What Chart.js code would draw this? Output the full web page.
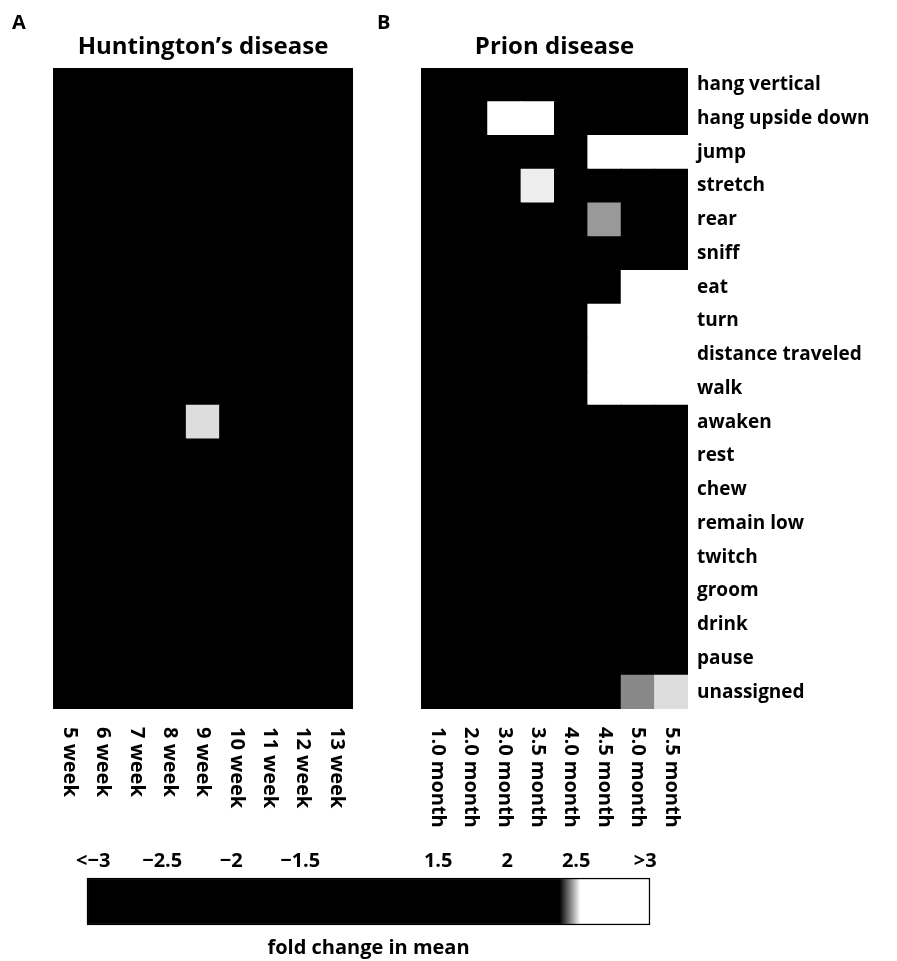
<!DOCTYPE html>
<html>
<head>
<meta charset="utf-8">
<script src="https://cdn.jsdelivr.net/npm/chart.js@4.4.1/dist/chart.umd.min.js"></script>
<style>
    html, body { margin: 0; padding: 0; background: #fff; }
    body { width: 897px; height: 961px; position: relative; overflow: hidden; }
    canvas { position: absolute; }
</style>
</head>
<body>
<canvas id="hdChart" width="380" height="840" style="left:0;top:0"></canvas>
<canvas id="prionChart" width="527" height="840" style="left:370px;top:0"></canvas>
<canvas id="scaleChart" width="700" height="141" style="left:40px;top:820px"></canvas>
<script>
const hdWeeks = ['5 week', '6 week', '7 week', '8 week', '9 week', '10 week', '11 week', '12 week', '13 week'];
const prionMonths = ['1.0 month', '2.0 month', '3.0 month', '3.5 month', '4.0 month', '4.5 month', '5.0 month', '5.5 month'];
const behaviours = ['hang vertical', 'hang upside down', 'jump', 'stretch', 'rear', 'sniff', 'eat', 'turn',
    'distance traveled', 'walk', 'awaken', 'rest', 'chew', 'remain low', 'twitch', 'groom', 'drink', 'pause', 'unassigned'];

// fold change in mean, one row per behaviour, one column per time point
const hdFold = [
    [1, 1, 1, 1, 1, 1, 1, 1, 1],
    [1, 1, 1, 1, 1, 1, 1, 1, 1],
    [1, 1, 1, 1, 1, 1, 1, 1, 1],
    [1, 1, 1, 1, 1, 1, 1, 1, 1],
    [1, 1, 1, 1, 1, 1, 1, 1, 1],
    [1, 1, 1, 1, 1, 1, 1, 1, 1],
    [1, 1, 1, 1, 1, 1, 1, 1, 1],
    [1, 1, 1, 1, 1, 1, 1, 1, 1],
    [1, 1, 1, 1, 1, 1, 1, 1, 1],
    [1, 1, 1, 1, 1, 1, 1, 1, 1],
    [1, 1, 1, 1, 2.51, 1, 1, 1, 1],
    [1, 1, 1, 1, 1, 1, 1, 1, 1],
    [1, 1, 1, 1, 1, 1, 1, 1, 1],
    [1, 1, 1, 1, 1, 1, 1, 1, 1],
    [1, 1, 1, 1, 1, 1, 1, 1, 1],
    [1, 1, 1, 1, 1, 1, 1, 1, 1],
    [1, 1, 1, 1, 1, 1, 1, 1, 1],
    [1, 1, 1, 1, 1, 1, 1, 1, 1],
    [1, 1, 1, 1, 1, 1, 1, 2.38, 1]
];
const prionFold = [
    [1, 1, 1, 1, 1, 1, 1, 1],
    [1, 1, 3.2, 3.2, 1, 1, 1, 1],
    [1, 1, 1, 1, 1, 3.2, 3.2, 3.2],
    [1, 1, 1, 2.52, 1, 1, 1, 1],
    [1, 1, 1, 1, 1, 2.47, 1, 1],
    [1, 1, 1, 1, 1, 1, 2.38, 1],
    [1, 1, 1, 1, 1, 1, 3.2, 3.2],
    [1, 1, 1, 1, 1, 3.2, 3.2, 3.2],
    [1, 1, 1, 1, 1, 3.2, 3.2, 3.2],
    [1, 1, 1, 1, 1, 3.2, 3.2, 3.2],
    [1, 1, 1, 1, 1, 1, 1, 1],
    [1, 1, 1, 1, 1, 1, 1, 1],
    [1, 1, 1, 1, 1, 1, 1, 1],
    [1, 1, 1, 1, 1, 1, 1, 1],
    [1, 1, 1, 1, 1, 1, 1, 1],
    [1, 1, 1, 1, 1, 1, 1, 1],
    [1, 1, 1, 1, 1, 1, 1, 1],
    [1, 1, 1, 1, 1, 1, 1, 1],
    [1, 1, 1, 1, 1, 1, 2.46, 2.51]
];

// colour scale
const scaleLabels = ['<\u22123', '\u22122.5', '\u22122', '\u22121.5', '', '1.5', '2', '2.5', '>3'];
const scaleFold = [-3, -2.5, -2, -1.5, null, 1.5, 2, 2.5, 3];
const darkUntil = 2.38;
const lightFrom = 2.53;

const FONT = "'Open Sans', 'DejaVu Sans', sans-serif";
Chart.defaults.font.family = FONT;
Chart.defaults.font.weight = 'bold';
Chart.defaults.color = '#000';

function foldColour(v) {
    const t = Math.min(1, Math.max(0, (v - darkUntil) / (lightFrom - darkUntil)));
    const g = Math.round(255 * t);
    return 'rgb(' + g + ',' + g + ',' + g + ')';
}

// position of a fold value on the colour scale axis (0..8)
function foldToPos(v) {
    for (let i = 5; i < scaleFold.length - 1; i++) {
        if (v <= scaleFold[i + 1]) return i + (v - scaleFold[i]) / (scaleFold[i + 1] - scaleFold[i]);
    }
    return scaleFold.length - 1;
}

// titles, panel letters and the rotated column labels
const panelText = {
    id: 'panelText',
    afterDraw(chart, args, opts) {
        const ctx = chart.ctx;
        const area = chart.chartArea;
        ctx.save();
        ctx.fillStyle = '#000';
        if (opts.letter) {
            ctx.font = 'bold 20px ' + FONT;
            ctx.textAlign = 'left';
            ctx.textBaseline = 'alphabetic';
            ctx.fillText(opts.letter, opts.letterX, 29);
        }
        if (opts.title) {
            ctx.font = 'bold 24px ' + FONT;
            ctx.textAlign = 'center';
            ctx.textBaseline = 'alphabetic';
            ctx.fillText(opts.title, (area.left + area.right) / 2, 54);
        }
        if (opts.columns) {
            const x = chart.scales.x;
            ctx.font = 'bold 20px ' + FONT;
            ctx.textAlign = 'left';
            ctx.textBaseline = 'middle';
            opts.columns.forEach(function (label, i) {
                ctx.save();
                ctx.translate(x.getPixelForValue(i), area.bottom + 18);
                ctx.rotate(Math.PI / 2);
                ctx.fillText(label, 0, 0);
                ctx.restore();
            });
        }
        if (opts.caption) {
            ctx.font = 'bold 20px ' + FONT;
            ctx.textAlign = 'center';
            ctx.textBaseline = 'middle';
            ctx.fillText(opts.caption, (area.left + area.right) / 2, area.bottom + 23);
        }
        ctx.restore();
    }
};

function heatmap(canvasId, columns, fold, padding, textOpts, withRowLabels) {
    const datasets = [];
    // stacks grow upwards, so the last behaviour goes first
    for (let r = behaviours.length - 1; r >= 0; r--) {
        datasets.push({
            label: behaviours[r],
            data: columns.map(function () { return 1; }),
            backgroundColor: fold[r].map(foldColour),
            borderWidth: 0,
            inflateAmount: 0.5,
            barPercentage: 1,
            categoryPercentage: 1
        });
    }
    const scales = {
        x: { type: 'category', stacked: true, offset: true, display: false },
        y: { type: 'linear', stacked: true, min: 0, max: behaviours.length, display: false }
    };
    if (withRowLabels) {
        scales.rows = {
            type: 'category',
            axis: 'y',
            position: 'right',
            labels: behaviours,
            offset: true,
            grid: { display: false, drawTicks: false },
            border: { display: false },
            ticks: { padding: 9, autoSkip: false, font: { size: 19, weight: 'bold' } },
            afterFit: function (scale) { scale.width = 209; }
        };
    }
    return new Chart(document.getElementById(canvasId), {
        type: 'bar',
        data: { labels: columns, datasets: datasets },
        options: {
            responsive: false,
            animation: false,
            layout: { padding: padding },
            plugins: {
                legend: { display: false },
                tooltip: { enabled: false },
                panelText: textOpts
            },
            scales: scales
        },
        plugins: [panelText]
    });
}

heatmap('hdChart', hdWeeks, hdFold, { left: 53, top: 68, right: 27, bottom: 131 },
    { letter: 'A', letterX: 12, title: 'Huntington\u2019s disease', columns: hdWeeks }, false);

heatmap('prionChart', prionMonths, prionFold, { left: 51, top: 68, right: 0, bottom: 131 },
    { letter: 'B', letterX: 7, title: 'Prion disease', columns: prionMonths }, true);

// colour bar
const barStart = -0.09;
const barEnd = scaleLabels.length - 1 + 0.07;

new Chart(document.getElementById('scaleChart'), {
    type: 'bar',
    data: {
        labels: ['fold change in mean'],
        datasets: [{
            data: [[barStart, barEnd]],
            backgroundColor: function (c) {
                const chart = c.chart;
                if (!chart.chartArea) return '#000';
                const x = chart.scales.x;
                const g = chart.ctx.createLinearGradient(x.getPixelForValue(foldToPos(darkUntil)), 0,
                    x.getPixelForValue(foldToPos(lightFrom)), 0);
                g.addColorStop(0, '#000');
                g.addColorStop(1, '#fff');
                return g;
            },
            borderColor: '#000',
            borderWidth: 1.5,
            borderSkipped: false,
            barPercentage: 1,
            categoryPercentage: 1,
            clip: false
        }]
    },
    options: {
        indexAxis: 'y',
        responsive: false,
        animation: false,
        layout: { padding: { left: 47, right: 90, top: 18, bottom: 36 } },
        plugins: {
            legend: { display: false },
            tooltip: { enabled: false },
            panelText: { caption: 'fold change in mean' }
        },
        scales: {
            x: {
                type: 'linear',
                position: 'top',
                min: barStart,
                max: barEnd,
                grid: { display: false, drawTicks: false },
                border: { display: false },
                afterBuildTicks: function (scale) {
                    scale.ticks = scaleLabels.map(function (l, i) { return { value: i }; });
                },
                afterFit: function (scale) { scale.height = 40; },
                ticks: {
                    autoSkip: false,
                    maxRotation: 0,
                    padding: 5,
                    font: { size: 20, weight: 'bold' },
                    callback: function (value, index) { return scaleLabels[index]; }
                }
            },
            y: { display: false }
        }
    },
    plugins: [panelText]
});
</script>
</body>
</html>
